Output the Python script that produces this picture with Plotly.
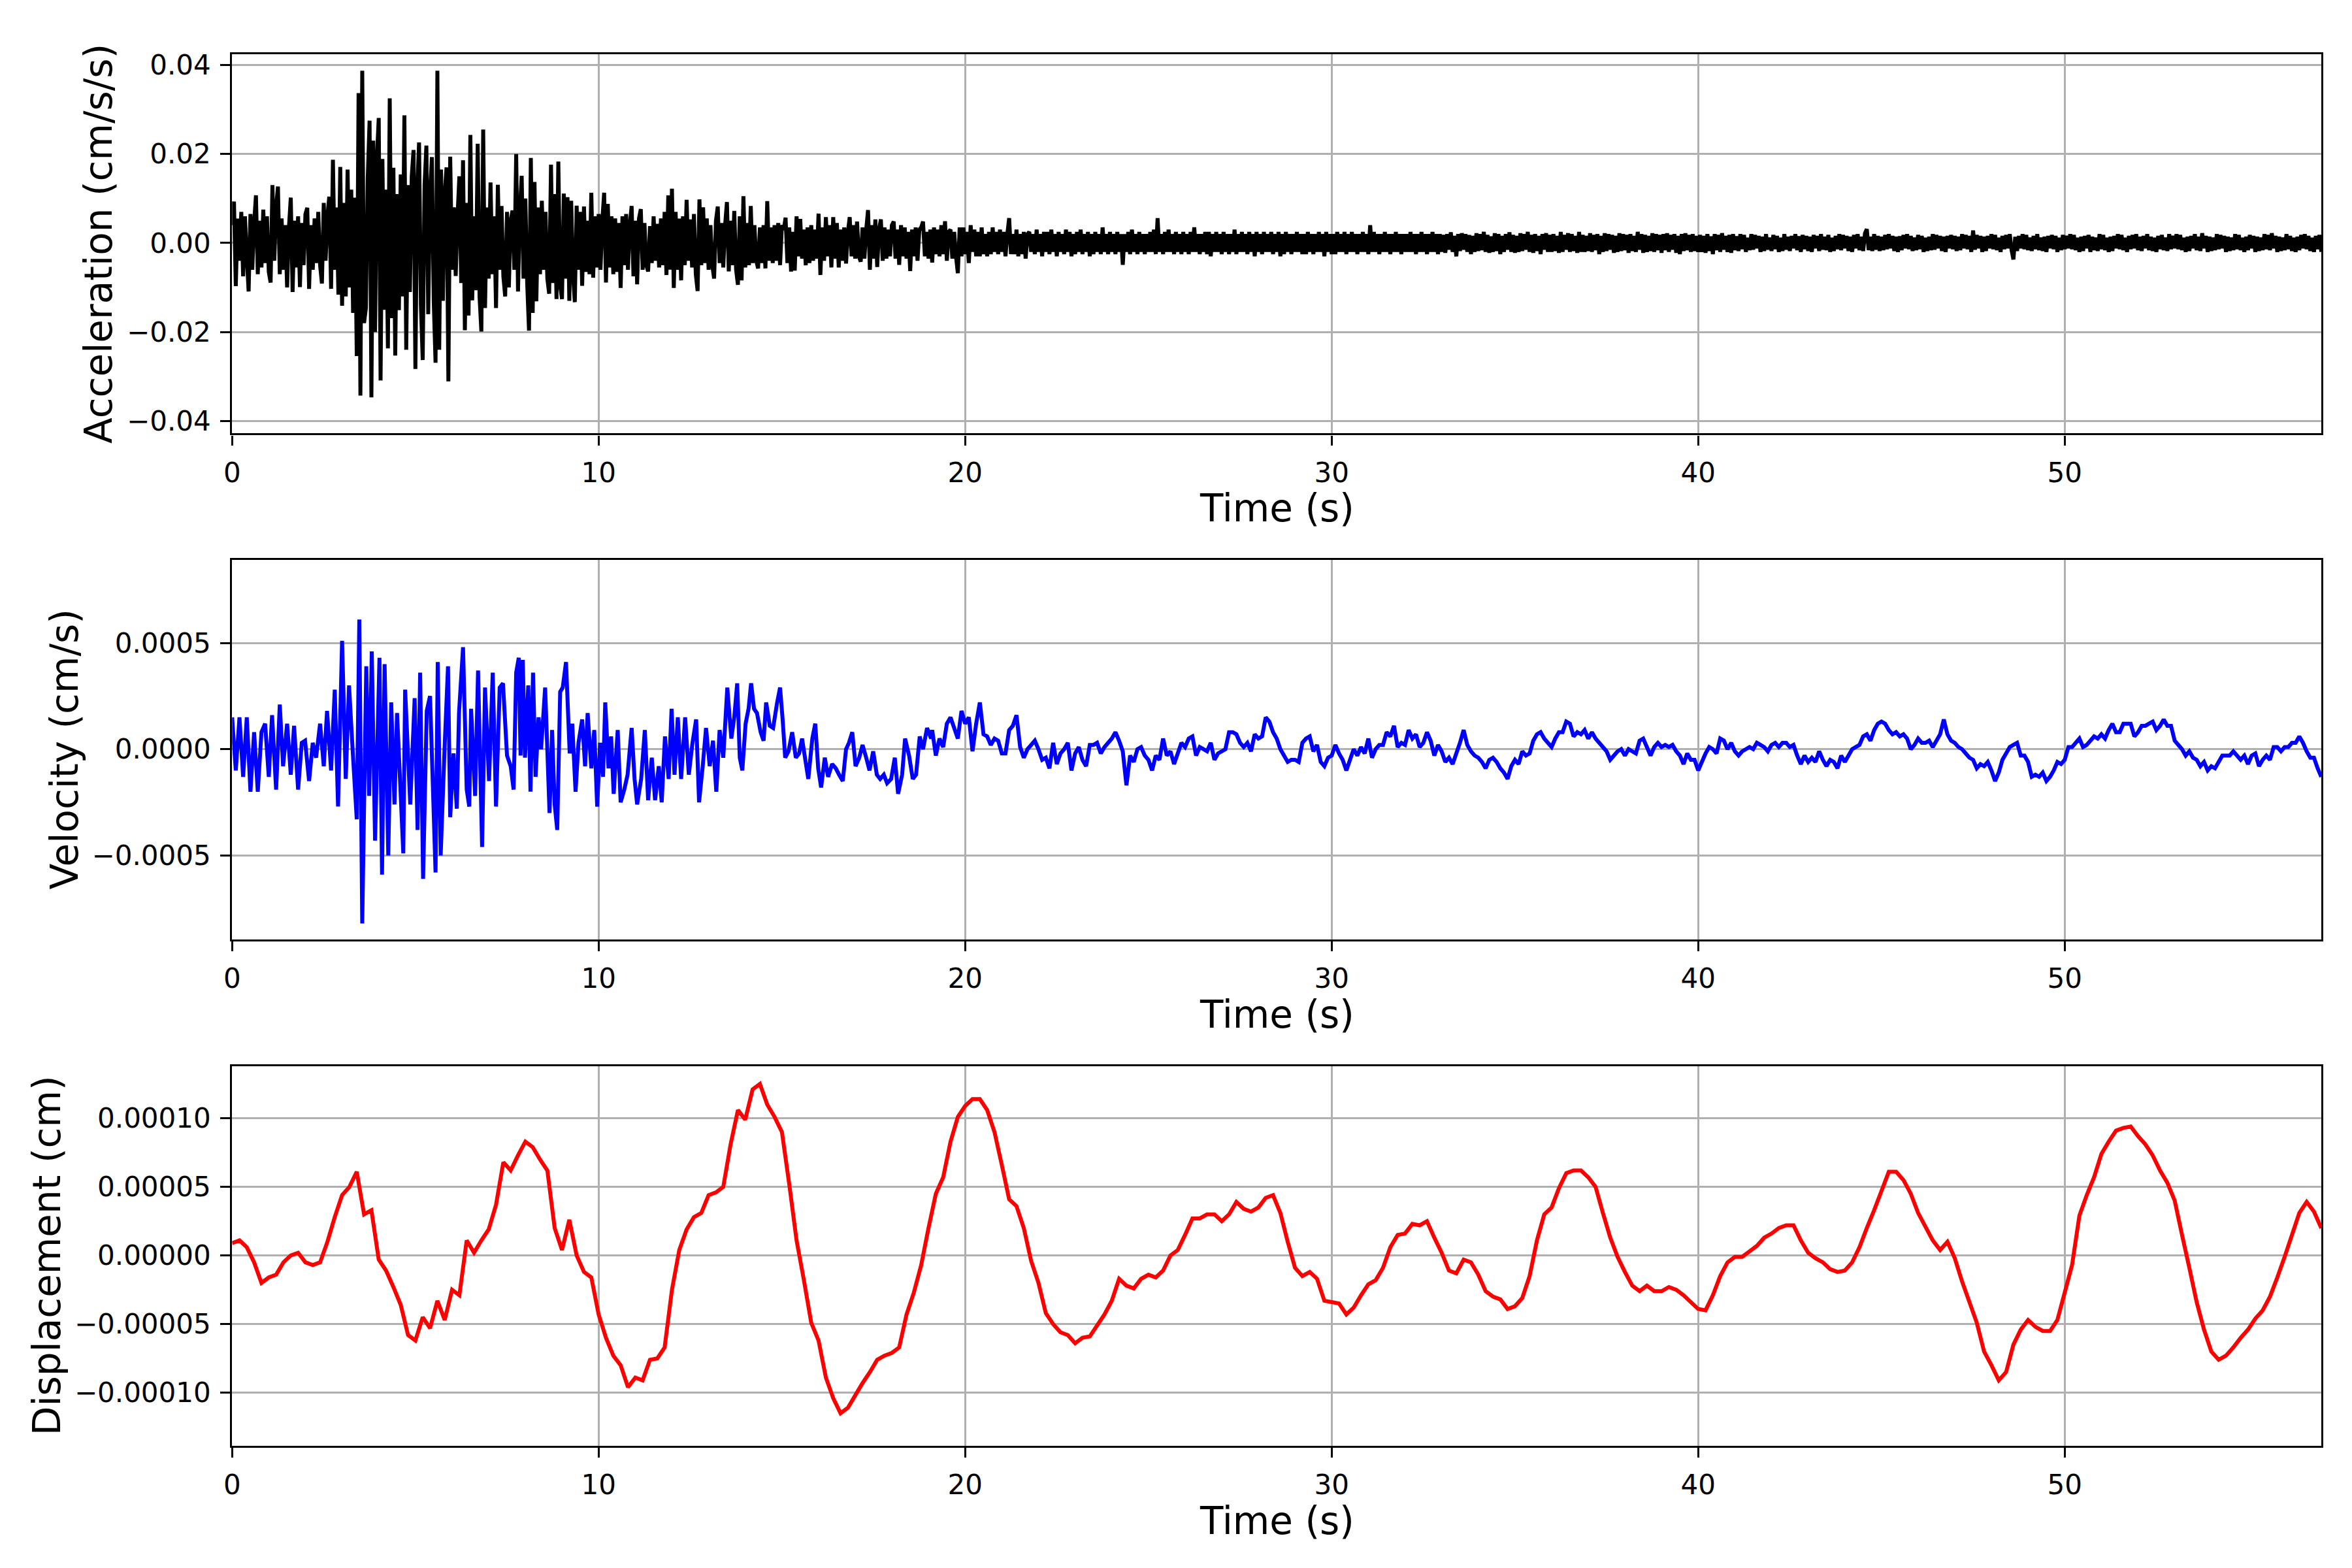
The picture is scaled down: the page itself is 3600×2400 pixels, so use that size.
#!/usr/bin/env python3
"""Three stacked time histories (acceleration, velocity, displacement) with Plotly."""

import numpy as np
import plotly.graph_objects as go
from plotly.subplots import make_subplots

# ---------------------------------------------------------------------------
# Data
# ---------------------------------------------------------------------------

# Acceleration, units of 1e-4 cm/s/s, sampled every 0.05 s.
# Strong-motion part, 0.00 s to 15.00 s
ACC_DT = 0.05
ACC_EARLY = [
    40, 93, -97, 55, -40, 70, -75, 60, -30, -109, 65, -60, 45, 107, -70, 50, -55, 75, -45, 60,
    -65, -89, 130, -40, 80, 127, -70, 55, -60, 40, -100, 35, 102, -110, 50, -55, 60, -99, 45, -50,
    65, 79, -103, 40, -60, 55, -45, 70, -50, -91, 90, -40, 60, 104, -103, 187, -60, 80, -116, 171,
    -141, 90, -120, 165, -100, 120, -157, 102, -254, 337, -343, 387, -180, -146, 146, 275, -347, 230, -200, 190,
    281, -309, 189, -150, 120, -237, 325, -169, 169, -253, 110, -151, 154, -120, 287, -240, 130, -110, 150, 209,
    -283, 120, 226, -140, -263, 130, 219, -160, 110, 193, -130, -269, 387, -240, 165, -130, 110, 170, -311, 194,
    -60, 80, -74, 60, 150, -90, 186, -196, 90, -163, 243, -129, 60, -106, 223, -120, -199, 255, -146, 80,
    -80, 136, -70, 60, -146, 131, -60, 83, -75, -120, 70, -100, 50, 73, -60, 200, -109, 70, 151, -80,
    100, -90, -197, 191, -157, 137, -131, 80, -70, 95, -60, 70, -80, -114, 176, -90, 110, -126, 183, -95,
    -126, 111, -80, 103, -130, 95, -70, -133, 84, -60, 70, -96, 82, -65, 50, -70, 113, -78, 60, -55,
    65, -60, 50, 113, -89, 88, -55, 60, -70, 55, -65, 45, -101, 60, -50, 65, -60, 40, 83, -75,
    50, -93, 55, 76, -60, 45, -50, -64, 38, -45, 60, -40, 43, -55, 55, -50, 70, -72, 107, -60,
    122, -101, 70, -60, 55, -84, 60, -50, 97, -40, 53, -55, 65, -70, -108, 98, -50, 80, -45, 55,
    -60, 40, -50, -80, 50, 82, -45, 45, -55, 40, 92, -64, 50, -50, 72, -60, -94, 60, -84, 105,
    -55, 45, -50, 83, -45, 40, -40, -57, 35, -45, 40, -57, 94, -40, 35, -45, 40, -40, 45, -50,
    40,
]
# Coda, 15.05 s to 57.00 s (one row per second)
ACC_LATE = [
    30, 57, -45, 35, -64, 25, -62, 60, -30, 54, -35, 30, -50, 35, -45, 40, -40, 30, -35, 66,
    -72, 35, -40, 58, -30, 40, -55, 58, -35, 45, -55, 30, -40, 35, -46, 25, 58, -30, 40, -35,
    48, -30, -42, 35, -35, 30, 74, -60, 40, -35, 53, -54, 30, 53, -40, 35, -35, 30, -30, 40,
    48, -35, 30, -49, 40, -30, 35, -35, 25, -63, 30, -30, 35, -40, 30, 35, 48, -30, 25, -35,
    30, -44, 35, -25, 30, -30, 40, -25, 49, -40, 25, 30, -35, 25, -30, -68, 35, -30, 35, -25,
    25, -45, 40, -20, 30, -30, 25, -30, 35, -25, 20, -30, 25, -25, 35, -20, 25, -25, 30, -20,
    25, -30, 20, 56, -25, 20, -25, 30, -30, 20, -25, 25, -35, 20, 25, -20, 20, -25, 30, -20,
    20, -30, 25, -20, 25, -25, 30, -20, 20, -30, 25, -20, 20, -25, 30, -20, 25, -30, 20, -25,
    25, -20, 30, -25, 20, -20, 25, -30, 20, -25, 25, -20, 20, -25, 35, -20, 20, -25, 25, -20,
    20, -25, 25, -20, 20, -49, 20, -20, 25, -25, 30, -20, 20, -25, 25, -20, 20, -25, 20, -20,
    25, -20, 30, -25, 56, -20, 20, -25, 25, -20, 30, -20, 20, -25, 25, -20, 20, -25, 25, -20,
    20, -25, 25, -20, 35, -20, 20, -25, 20, -20, 25, -25, 25, -30, 20, -20, 25, -20, 20, -25,
    25, -20, 20, -25, 20, -20, 30, -25, 20, -20, 25, -20, 20, -25, 25, -20, 20, -30, 25, -20,
    20, -25, 25, -20, 20, -20, 25, -25, 20, -20, 25, -30, 20, -25, 25, -20, 20, -25, 20, -20,
    25, -20, 20, -25, 20, -25, 25, -20, 20, -25, 20, -20, 25, -20, 20, -30, 25, -20, 20, -25,
    20, -25, 25, -20, 20, -20, 25, -25, 20, -20, 25, -20, 20, -25, 20, -20, 25, -20, 20, -25,
    40, -20, 25, -20, 20, -25, 20, -20, 25, -20, 20, -25, 20, -20, 25, -20, 20, -25, 20, -20,
    20, -20, 25, -20, 20, -25, 20, -20, 25, -20, 20, -25, 20, -20, 25, -20, 20, -25, 20, -20,
    18, -22, 20, -15, 24, -20, 16, -30, 20, -18, 22, -15, 20, -20, 18, -25, 16, -20, 22, -18,
    20, -16, 25, -20, 18, -22, 15, -20, 22, -18, 20, -25, 16, -20, 20, -15, 24, -20, 18, -22,
    16, -20, 22, -18, 20, -15, 25, -20, 18, -22, 20, -18, 16, -25, 20, -15, 22, -20, 18, -20,
    20, -18, 16, -22, 25, -20, 18, -15, 22, -20, 20, -18, 16, -22, 25, -20, 18, -20, 16, -18,
    22, -20, 18, -16, 20, -25, 16, -20, 22, -18, 20, -15, 18, -22, 16, -20, 22, -18, 20, -16,
    18, -22, 20, -18, 16, -20, 25, -15, 20, -22, 18, -20, 16, -18, 22, -20, 20, -16, 18, -22,
    20, -16, 22, -20, 18, -15, 20, -22, 16, -25, 20, -18, 22, -16, 18, -20, 20, -18, 16, -20,
    18, -20, 16, -22, 20, -18, 15, -25, 20, -16, 18, -20, 22, -15, 16, -20, 18, -22, 20, -16,
    15, -18, 20, -14, 18, -20, 12, -16, 20, -15, 18, -12, 16, -20, 14, -18, 20, -15, 12, -18,
    18, -14, 16, -20, 12, -18, 20, -15, 14, -18, 16, -12, 20, -16, 15, -20, 18, -14, 16, -18,
    14, -20, 18, -12, 16, -18, 20, -15, 14, -16, 18, -20, 12, -18, 16, -14, 20, -16, 18, -12,
    16, -18, 14, -20, 18, -12, 20, -16, 14, -18, 22, 31, -16, 14, -18, 20, -15, 16, -18, 14,
    -16, 18, -14, 20, -12, 16, -18, 14, -20, 15, -16, 18, -12, 20, -14, 16, -18, 12, -16, 18,
    -14, 16, -20, 12, -18, 14, -16, 20, -15, 18, -12, 16, -18, 14, -20, 16, -12, 18, -14, 16,
    -18, 14, -16, 20, -12, 18, -14, 16, -20, 28, -15, 18, -12, 16, -20, 14, -18, 16, -12, 20,
    -14, 18, -16, 12, -20, 16, -14, 18, -12, 20, -16, -37, 14, -18, 16, -12, 20, -14, 18, -16,
    12, -18, 16, -14, 20, -16, 12, -18, 14, -20, 16, -12, 18, -14, 16, -20, 12, -16, 18, -14,
    16, -12, 20, -14, 18, -16, 12, -20, 14, -18, 16, -12, 18, -20, 14, -16, 12, -18, 20, -14,
    18, -16, 12, -20, 14, -18, 16, -12, 20, -14, 18, -16, 12, -20, 16, -14, 18, -12, 20, -16,
    14, -18, 16, -12, 20, -16, 14, -18, 12, -20, 16, -14, 18, -16, 12, -18, 20, -14, 16, -12,
    20, -14, 18, -16, 12, -20, 14, -18, 16, -12, 20, -16, 14, -18, 22, -12, 16, -20, 14, -18,
    12, -16, 20, -14, 18, -12, 16, -20, 14, -18, 12, -16, 20, -14, 18, -16, 12, -20, 14, -16,
    18, -12, 16, -20, 14, -18, 12, -16, 20, -14, 18, -16, 22, -12, 16, -20, 14, -18, 12, -16,
    20, -14, 16, -18, 12, -20, 14, -16, 18, -12, 20, -14, 16, -18, 12, -20, 16, -14, 18, -20,
]

# Velocity, units of 1e-5 cm/s.
# Early part: times (s) where the trace was read, and the values there
VEL_EARLY_T = [
    0.00, 0.10, 0.20, 0.30, 0.40, 0.50, 0.60, 0.70, 0.80, 0.90,
    1.00, 1.09, 1.20, 1.30, 1.39, 1.50, 1.60, 1.69, 1.80, 1.90,
    1.99, 2.10, 2.20, 2.29, 2.40, 2.50, 2.59, 2.70, 2.80, 2.89,
    3.00, 3.10, 3.19, 3.30, 3.40, 3.47, 3.55, 3.66, 3.74, 3.81,
    3.90, 4.02, 4.09, 4.16, 4.26, 4.34, 4.43, 4.50, 4.67, 4.72,
    4.86, 4.98, 5.06, 5.13, 5.21, 5.31, 5.40, 5.55, 5.61, 5.69,
    5.80, 5.89, 5.95, 6.04, 6.13, 6.19, 6.30, 6.40, 6.47, 6.52,
    6.63, 6.71, 6.82, 6.90, 7.01, 7.11, 7.20, 7.30, 7.39, 7.50,
    7.60, 7.68, 7.75, 7.82, 7.87, 7.93, 7.99, 8.08, 8.14, 8.21,
    8.28, 8.36, 8.43, 8.54, 8.66, 8.73, 8.80, 8.87, 8.95, 9.02,
    9.11, 9.21, 9.28, 9.37, 9.45, 9.55, 9.63, 9.70, 9.80, 9.88,
    9.96, 10.04, 10.12, 10.18, 10.27, 10.34, 10.41, 10.52, 10.60, 10.70,
    10.79, 10.90, 10.98, 11.05, 11.16, 11.26, 11.35, 11.45, 11.54, 11.64,
    11.72, 11.81, 11.91, 11.99, 12.07, 12.16, 12.25, 12.36, 12.46, 12.56,
    12.66, 12.74, 12.84, 12.93, 13.03, 13.12, 13.21, 13.30, 13.40, 13.51,
    13.62, 13.70, 13.78, 13.85, 13.92, 14.01, 14.09, 14.16, 14.24, 14.32,
    14.42, 14.50, 14.57, 14.67, 14.76, 14.87, 14.95, 15.02, 15.09, 15.18,
    15.28, 15.38, 15.47, 15.55, 15.63, 15.72, 15.83, 15.91, 15.99, 16.07,
    16.17, 16.26, 16.37, 16.47, 16.56, 16.66, 16.75, 16.83, 16.92, 17.01,
    17.11, 17.20, 17.30, 17.39, 17.49, 17.59, 17.68, 17.78, 17.87, 17.98,
    18.08, 18.17, 18.28, 18.36, 18.47, 18.57, 18.66, 18.76, 18.85, 18.96,
    19.07,
]
VEL_EARLY = [
    15, -10, 15, -13, 15, -20, 8, -20, 8, 12,
    -13, 16, -19, 21, -8, 12, -12, 11, -19, 3,
    4, -15, 3, -4, 12, -8, 18, -10, 28, -27,
    51, -14, 30, -4, -33, 61, -82, 39, -22, 46,
    -43, 43, -59, 40, -50, 22, -26, 17, -49, 28,
    -26, 24, -38, 36, -61, 18, 25, -58, 41, -50,
    2, 39, -32, -2, -28, 17, 48, -19, -27, 19,
    -22, 37, -46, 29, -15, 36, -27, 29, 31, -3,
    -8, -19, 36, 43, -3, 42, -4, 30, -20, 36,
    -13, 15, 0, 29, -30, 9, -26, -38, 27, 29,
    41, -2, 12, -20, 3, 14, -8, 17, -9, 9,
    -27, 3, -13, 22, -9, 6, -21, 9, -25, -19,
    -12, 10, -14, -26, -14, 9, -24, -4, -24, -8,
    -25, 6, -14, 19, -12, 15, -14, 15, -12, 3,
    14, -25, -8, 10, -8, 4, -20, 9, -4, 29,
    5, 15, 31, -4, -10, 12, 19, 31, 19, 17,
    8, 4, 22, 11, 10, 22, 29, 14, -4, -1,
    8, -4, -2, 5, -4, -14, 5, 12, -9, -18,
    -4, -13, -7, -9, -12, -15, 0, 3, 8, -8,
    -4, 2, -4, -10, -1, -12, -14, -12, -16, -14,
    -4, -21, -12, 5, -3, -14, -12, 6, 0, 10,
    5,
]
# Late part sampled every 0.1 s from 19.1 s to 57.0 s
VEL_LATE_START = 19.1
VEL_LATE_DT = 0.1
VEL_LATE = [
    9, -3, 5, 1, 12, 15, 10, 5, 18, 12,
    15, -1, 12, 22, 7, 6, 2, 5, 4, -2,
    -2, 9, 11, 16, 1, -4, 0, 2, 4, 0,
    -5, -4, -9, 3, -7, -2, 0, 3, -10, -2,
    1, -5, -8, 2, 2, 3, -2, 1, 3, 5,
    8, 4, -1, -17, -3, -6, 0, 1, -3, -5,
    -10, -3, -5, 5, -3, -1, -7, -2, 3, 1,
    5, 6, -3, 1, 0, -1, 3, -5, -2, -1,
    0, 8, 8, 7, 3, 1, 3, -1, 7, 5,
    6, 15, 13, 8, 5, 0, -3, -6, -5, -5,
    -6, 3, 5, 6, -1, 2, -6, -8, -4, -3,
    2, -2, -5, -10, -5, 0, -3, 1, -2, 5,
    -4, 0, 2, 2, 8, 6, 11, 1, 3, 2,
    9, 5, 7, 1, 3, 8, 4, -3, 2, -1,
    -6, -4, -7, -2, 3, 9, 2, -1, -3, -4,
    -6, -9, -5, -4, -6, -9, -11, -14, -8, -5,
    -7, -1, -3, -2, 4, 7, 8, 5, 3, 1,
    5, 8, 8, 13, 12, 6, 8, 7, 9, 5,
    8, 5, 3, 1, -1, -5, -3, -1, 0, -3,
    0, -1, -2, 4, 5, 1, -3, 1, 3, 1,
    2, 1, 2, -1, -3, -7, -2, -5, -5, -10,
    -6, -2, 1, 0, -2, 5, 4, 0, 3, -1,
    -3, -1, 0, 1, 0, 3, 2, 1, -1, 2,
    3, 1, 3, 3, 1, 2, -3, -7, -3, -6,
    -4, -6, -1, -5, -8, -5, -6, -9, -3, -6,
    -3, 0, 1, 2, 6, 7, 4, 9, 12, 13,
    12, 9, 7, 8, 6, 7, 5, 0, 2, 5,
    3, 3, 4, 1, 4, 7, 14, 7, 4, 3,
    1, 0, -2, -4, -5, -9, -7, -8, -6, -10,
    -15, -11, -5, -2, 1, 2, 3, -3, -3, -6,
    -13, -12, -13, -11, -15, -13, -10, -6, -7, -5,
    1, 1, 3, 5, 1, 2, 4, 6, 5, 7,
    5, 9, 12, 8, 8, 12, 12, 12, 6, 8,
    11, 11, 12, 13, 9, 11, 14, 11, 11, 4,
    2, 0, -3, -1, -4, -5, -8, -6, -10, -8,
    -9, -6, -3, -3, -3, -1, -3, -5, -3, -7,
    -3, -2, -8, -5, -3, -5, 1, 1, -1, 1,
    1, 3, 3, 6, 3, -1, -4, -4, -9, -13,
]

# Displacement, units of 1e-6 cm, sampled every 0.2 s from 0 s to 57 s
DISP_DT = 0.2
DISP = [
    9, 11, 6, -5, -20, -16, -14, -5, 0, 2,
    -5, -7, -5, 10, 28, 44, 50, 61, 30, 33,
    -3, -11, -23, -36, -58, -62, -45, -53, -33, -47,
    -25, -29, 11, 2, 11, 19, 37, 68, 62, 73,
    83, 79, 70, 62, 20, 4, 26, 0, -12, -16,
    -43, -60, -73, -80, -96, -89, -91, -76, -75, -67,
    -25, 4, 19, 28, 31, 44, 46, 50, 81, 106,
    99, 121, 125, 110, 101, 90, 52, 11, -18, -49,
    -62, -89, -104, -115, -111, -102, -93, -85, -76, -73,
    -71, -67, -43, -27, -7, 20, 45, 57, 83, 101,
    109, 114, 114, 106, 90, 66, 41, 36, 20, -4,
    -20, -42, -50, -56, -58, -64, -60, -59, -51, -43,
    -33, -17, -22, -24, -17, -14, -16, -11, 0, 4,
    15, 27, 27, 30, 30, 25, 30, 39, 34, 32,
    35, 42, 44, 31, 10, -9, -15, -12, -17, -33,
    -34, -35, -43, -38, -29, -21, -18, -9, 6, 15,
    16, 23, 22, 25, 13, 2, -11, -13, -3, -5,
    -14, -26, -30, -32, -39, -37, -31, -15, 11, 30,
    35, 49, 60, 62, 62, 57, 50, 31, 13, -1,
    -12, -22, -26, -22, -26, -26, -23, -25, -29, -34,
    -39, -40, -29, -15, -5, -1, -1, 3, 7, 13,
    16, 20, 22, 22, 11, 2, -2, -5, -10, -12,
    -11, -5, 6, 20, 33, 47, 61, 61, 55, 45,
    31, 21, 11, 4, 10, -2, -19, -34, -49, -70,
    -80, -91, -85, -65, -54, -47, -52, -55, -55, -47,
    -27, -7, 29, 44, 57, 74, 83, 91, 93, 94,
    87, 81, 73, 62, 53, 40, 15, -9, -34, -54,
    -70, -76, -73, -67, -60, -54, -46, -40, -30, -16,
    -1, 15, 31, 39, 32, 20,
]

# Axis ticks and labels
X_TICKS = [0, 10, 20, 30, 40, 50]
ACC_TICKS = [-0.04, -0.02, 0.0, 0.02, 0.04]
ACC_TICK_TEXT = ["\u22120.04", "\u22120.02", "0.00", "0.02", "0.04"]
VEL_TICKS = [-0.0005, 0.0, 0.0005]
VEL_TICK_TEXT = ["\u22120.0005", "0.0000", "0.0005"]
DISP_TICKS = [-0.0001, -0.00005, 0.0, 0.00005, 0.0001]
DISP_TICK_TEXT = ["\u22120.00010", "\u22120.00005", "0.00000", "0.00005", "0.00010"]

FONT = "DejaVu Sans, Liberation Sans, sans-serif"
W, H = 3600, 2400
PAGE_PAD = 8  # the page body adds this many pixels before the figure


def build_series():
    """Turn the read-off lists into time/value arrays in physical units."""
    acc_vals = ACC_EARLY + ACC_LATE
    acc_t = np.arange(len(acc_vals)) * ACC_DT
    acc = np.array(acc_vals) * 1e-4

    vel_t = np.concatenate([
        np.array(VEL_EARLY_T),
        VEL_LATE_START + np.arange(len(VEL_LATE)) * VEL_LATE_DT,
    ])
    vel = np.array(VEL_EARLY + VEL_LATE) * 1e-5

    disp_t = np.arange(len(DISP)) * DISP_DT
    disp = np.array(DISP) * 1e-6
    return (acc_t, acc), (vel_t, vel), (disp_t, disp)


def px_x(x):
    """Screen pixel column -> paper fraction."""
    return (x - PAGE_PAD) / W


def px_y(y):
    """Screen pixel row -> paper fraction (from bottom)."""
    return 1 - (y - PAGE_PAD) / H


def main():
    (acc_t, acc), (vel_t, vel), (disp_t, disp) = build_series()

    fig = make_subplots(rows=3, cols=1)

    # keep every sample: plotly's line simplification thins dense zig-zags
    fig.add_trace(go.Scatter(x=acc_t, y=acc, mode="lines",
                             line=dict(color="#000000", width=6, simplify=False)),
                  row=1, col=1)
    fig.add_trace(go.Scatter(x=vel_t, y=vel, mode="lines",
                             line=dict(color="#0000ff", width=6, simplify=False)),
                  row=2, col=1)
    fig.add_trace(go.Scatter(x=disp_t, y=disp, mode="lines",
                             line=dict(color="#ff0000", width=6, simplify=False)),
                  row=3, col=1)

    x_left, x_right = 355.3, 3553.0
    x_dom = [px_x(x_left), px_x(x_right)]
    panels = [(82.5, 663.4), (856.6, 1437.5), (1631.9, 2212.5)]
    y_doms = [[px_y(b), px_y(t)] for t, b in panels]

    common_axis = dict(
        automargin=False,
        showline=True, linewidth=3.3, linecolor="black", mirror=True,
        ticks="outside", ticklen=15, tickwidth=3.3, tickcolor="black",
        showgrid=True, gridcolor="#b0b0b0", gridwidth=3.3, zeroline=False,
        tickfont=dict(family=FONT, size=42, color="black"),
    )

    y_specs = [
        ([-0.0428, 0.0425], ACC_TICKS, ACC_TICK_TEXT),
        ([-0.000894, 0.000892], VEL_TICKS, VEL_TICK_TEXT),
        ([-0.0001385, 0.000138], DISP_TICKS, DISP_TICK_TEXT),
    ]
    for i in range(3):
        suffix = "" if i == 0 else str(i + 1)
        rng, tv, tt = y_specs[i]
        fig.layout["xaxis" + suffix].update(
            domain=x_dom, range=[0, 57.0], tickvals=X_TICKS,
            ticktext=[str(v) for v in X_TICKS], ticklabelstandoff=6, **common_axis)
        fig.layout["yaxis" + suffix].update(
            domain=y_doms[i], range=rng, tickvals=tv, ticktext=tt,
            ticklabelstandoff=6, **common_axis)

    # axis titles placed as annotations to match the matplotlib layout
    y_titles = ["Acceleration (cm/s/s)", "Velocity (cm/s)", "Displacement (cm)"]
    y_title_x = [151, 99.5, 72]
    for i, (t, b) in enumerate(panels):
        fig.add_annotation(text="Time (s)", xref="paper", yref="paper",
                           x=px_x((x_left + x_right) / 2), y=px_y(b + 115),
                           xanchor="center", yanchor="middle", showarrow=False,
                           font=dict(family=FONT, size=58, color="black"))
        fig.add_annotation(text=y_titles[i], xref="paper", yref="paper",
                           x=px_x(y_title_x[i]), y=px_y((t + b) / 2),
                           xanchor="center", yanchor="middle", textangle=-90,
                           showarrow=False,
                           font=dict(family=FONT, size=58, color="black"))

    fig.update_layout(
        width=W, height=H, autosize=False,
        margin=dict(l=0, r=0, t=0, b=0),
        paper_bgcolor="white", plot_bgcolor="white",
        showlegend=False,
        font=dict(family=FONT, color="black"),
    )

    fig.write_html("out.html")


if __name__ == "__main__":
    main()
